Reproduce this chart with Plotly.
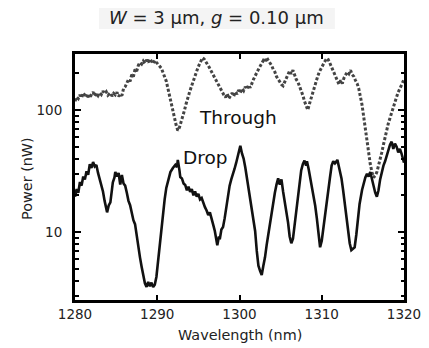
import plotly.graph_objects as go

# ---------------- data ----------------
drop_wl = [1280.0,1280.2,1280.4,1280.6,1280.8,1281.0,1281.2,1281.4,1281.6,1281.8,1282.0,1282.2,1282.4,1282.6,1282.8,
           1283.0,1283.2,1283.4,1283.6,1283.8,1283.9,1284.1,1284.3,1284.5,1284.6,1284.8,1284.9,1285.1,1285.3,1285.5,
           1285.7,1285.9,1286.1,1286.3,1286.5,1286.7,1286.9,1287.1,1287.3,1287.5,1287.7,1287.9,1288.1,1288.3,1288.5,
           1288.7,1288.9,1289.1,1289.3,1289.5,1289.7,1289.9,1290.1,1290.3,1290.5,1290.7,1290.9,1291.1,1291.3,1291.6,
           1291.9,1292.2,1292.4,1292.5,1292.7,1292.8,1293.0,1293.2,1293.4,1293.6,1293.8,1294.0,1294.2,1294.4,1294.6,
           1294.8,1295.0,1295.2,1295.4,1295.6,1295.8,1296.0,1296.2,1296.4,1296.6,1296.8,1297.0,1297.2,1297.3,1297.5,
           1297.6,1297.8,1298.0,1298.2,1298.4,1298.6,1298.8,1299.0,1299.2,1299.4,1299.6,1299.8,1300.0,1300.1,1300.3,
           1300.5,1300.7,1300.9,1301.1,1301.3,1301.5,1301.7,1301.9,1302.1,1302.3,1302.5,1302.7,1302.9,1303.1,1303.3,
           1303.5,1303.7,1303.9,1304.1,1304.3,1304.5,1304.7,1304.9,1305.1,1305.3,1305.5,1305.7,1305.9,1306.1,1306.3,
           1306.5,1306.7,1306.9,1307.1,1307.3,1307.5,1307.7,1307.9,1308.1,1308.2,1308.4,1308.6,1308.8,1309.0,1309.2,
           1309.4,1309.6,1309.8,1310.0,1310.2,1310.4,1310.6,1310.8,1311.0,1311.2,1311.4,1311.6,1311.9,1312.1,1312.2,
           1312.4,1312.6,1312.8,1313.0,1313.2,1313.4,1313.6,1313.8,1314.0,1314.2,1314.4,1314.6,1314.9,1315.1,1315.3,
           1315.5,1315.7,1315.9,1316.1,1316.3,1316.5,1316.7,1316.9,1317.1,1317.3,1317.5,1317.7,1317.9,1318.1,1318.3,
           1318.5,1318.7,1318.9,1319.1,1319.3,1319.5,1319.7,1319.9,1320.0]
drop_nw = [19.5,22.5,21.0,25.7,24.0,28.5,27.0,31.5,29.5,36.0,33.5,37.5,34.5,35.5,30.5,
           27.0,25.2,21.5,18.0,16.0,14.5,16.5,17.5,22.5,25.5,28.0,31.0,28.5,30.5,24.5,
           29.3,25.0,24.0,21.0,18.0,16.6,14.3,12.5,11.6,9.1,7.5,6.2,5.2,4.3,3.8,
           3.55,3.9,3.6,3.85,3.55,3.7,4.3,5.9,7.6,10.0,13.5,18.5,23.0,26.5,31.0,
           33.5,35.5,34.0,39.0,32.0,28.2,27.5,25.0,24.3,22.0,23.5,21.3,22.5,20.0,21.5,
           19.5,20.5,18.5,19.0,17.3,16.0,15.0,13.8,14.5,12.5,11.5,10.2,8.5,7.8,9.2,
           8.7,10.5,11.0,13.0,16.5,20.5,24.0,27.0,29.5,33.0,37.0,42.0,46.0,51.0,44.0,
           40.0,34.0,28.0,23.0,19.0,15.5,12.8,10.2,7.0,5.3,4.8,4.45,5.3,6.2,7.8,
           9.6,12.0,15.0,18.0,21.0,24.5,27.5,24.5,27.0,21.5,18.0,15.5,12.0,9.2,8.1,
           8.8,11.5,16.0,20.9,27.0,32.0,36.0,38.5,35.0,38.0,33.0,28.0,23.0,19.5,16.5,
           13.0,10.0,7.5,8.5,11.0,13.3,17.0,21.5,28.0,35.0,38.0,36.5,39.0,34.0,32.2,
           27.5,22.0,17.3,12.5,10.4,8.1,7.1,7.3,7.5,9.5,13.3,17.0,22.1,25.0,28.0,
           30.0,28.5,31.0,27.0,24.5,21.0,19.5,22.0,27.0,31.0,35.0,38.0,42.0,48.0,52.0,
           55.0,48.0,53.0,50.0,45.0,48.0,44.0,40.0,37.0]

through_wl = [1280.0,1280.2,1280.4,1280.6,1280.8,1281.0,1281.2,1281.4,1281.6,1281.8,1282.0,1282.2,1282.4,1282.6,1282.8,
              1283.0,1283.2,1283.4,1283.6,1283.8,1284.0,1284.3,1284.5,1284.7,1284.9,1285.1,1285.3,1285.5,1285.7,1285.9,
              1286.1,1286.3,1286.5,1286.7,1286.9,1287.1,1287.3,1287.5,1287.7,1287.9,1288.1,1288.3,1288.5,1288.7,1288.9,
              1289.1,1289.3,1289.5,1289.7,1289.9,1290.1,1290.3,1290.5,1290.7,1290.9,1291.1,1291.3,1291.5,1291.7,1291.9,
              1292.1,1292.3,1292.5,1292.7,1292.9,1293.1,1293.3,1293.5,1293.7,1293.9,1294.1,1294.3,1294.5,1294.7,1294.9,
              1295.1,1295.3,1295.5,1295.7,1295.9,1296.1,1296.3,1296.5,1296.7,1296.9,1297.1,1297.3,1297.5,1297.7,1297.9,
              1298.1,1298.3,1298.5,1298.7,1298.9,1299.1,1299.3,1299.5,1299.7,1299.9,1300.1,1300.3,1300.5,1300.7,1300.9,
              1301.1,1301.3,1301.5,1301.7,1301.9,1302.1,1302.3,1302.5,1302.7,1302.9,1303.1,1303.3,1303.5,1303.7,1303.9,
              1304.1,1304.3,1304.5,1304.7,1304.9,1305.1,1305.3,1305.5,1305.7,1305.9,1306.1,1306.3,1306.5,1306.7,1306.9,
              1307.1,1307.3,1307.5,1307.7,1307.9,1308.1,1308.3,1308.5,1308.7,1308.9,1309.1,1309.3,1309.5,1309.7,1309.9,
              1310.1,1310.3,1310.5,1310.7,1310.9,1311.1,1311.3,1311.5,1311.7,1311.9,1312.1,1312.3,1312.5,1312.7,1312.9,
              1313.1,1313.3,1313.5,1313.7,1313.9,1314.1,1314.3,1314.5,1314.7,1314.9,1315.1,1315.3,1315.5,1315.7,1315.9,
              1316.1,1316.3,1316.5,1316.7,1316.9,1317.1,1317.3,1317.5,1317.7,1317.9,1318.1,1318.3,1318.5,1318.7,1318.9,
              1319.1,1319.3,1319.5,1319.7,1319.9,1320.0]
through_nw = [118,128,124,133,126,138,132,127,136,125,134,140,130,137,131,
              139,134,143,136,141,132,138,130,137,133,140,129,135,131,150,
              155,165,178,172,195,188,215,208,232,245,238,252,241,258,246,
              262,250,240,255,244,236,228,220,205,190,172,150,130,110,96,
              84,75,68,72,80,88,99,112,122,138,152,168,185,200,218,
              235,255,268,262,250,240,225,212,200,185,178,165,155,148,138,
              133,127,136,124,132,138,130,141,135,146,139,150,144,155,148,
              160,152,168,178,190,205,215,228,242,255,248,270,255,245,232,
              215,205,188,178,168,162,158,172,185,196,210,198,212,190,178,
              170,158,145,132,118,108,100,112,125,140,155,172,188,205,220,
              232,245,258,265,250,232,215,198,185,170,162,175,165,183,195,
              205,198,212,195,188,175,165,150,130,110,88,70,55,44,36,
              31,28,29,31,35,39,45,52,60,69,78,86,96,108,120,
              128,140,150,162,170,178]

x_tickvals = [1280, 1290, 1300, 1310, 1320]
y_tickvals = [10, 100]
y_ticktext = ["10", "100"]
y_minor = [3, 4, 5, 6, 7, 8, 9, 20, 30, 40, 50, 60, 70, 80, 90, 200]

# label anchor positions (wavelength, power in nW)
through_label = (1299.76, 87.6)
drop_label = (1295.87, 41.2)

FONT = "DejaVu Sans, Liberation Sans, Arial, sans-serif"

fig = go.Figure()
fig.add_trace(go.Scatter(x=through_wl, y=through_nw, mode="lines", name="Through",
                         line=dict(color="#444444", width=3, dash="3px,2px"),
                         showlegend=False))
fig.add_trace(go.Scatter(x=drop_wl, y=drop_nw, mode="lines", name="Drop",
                         line=dict(color="#111111", width=2.6),
                         showlegend=False))

axis_common = dict(showline=True, linecolor="black", linewidth=3, mirror="allticks",
                   ticks="inside", tickcolor="black", tickwidth=2, showgrid=False,
                   zeroline=False, tickfont=dict(family=FONT, size=13.5, color="#222222"))

fig.update_xaxes(range=[1280, 1320], tickvals=x_tickvals, ticklen=5, **axis_common)
fig.update_yaxes(type="log", range=[0.443, 2.459], tickvals=y_tickvals, ticktext=y_ticktext,
                 ticklen=6, ticklabelstandoff=7,
                 minor=dict(tickvals=y_minor, ticks="inside", ticklen=3.5, tickwidth=1.5,
                            tickcolor="black", showgrid=False),
                 **axis_common)

fig.add_shape(type="rect", xref="paper", yref="paper", x0=0.073, x1=0.790, y0=1.102, y1=1.26,
              fillcolor="#f4f4f4", line=dict(width=0), layer="below")

fig.add_annotation(xref="paper", yref="paper", x=0.4286, y=1.150, showarrow=False,
                   text="<i>W</i> = 3 µm, <i>g</i> = 0.10 µm",
                   font=dict(family=FONT, size=18, color="#222222"), xanchor="center", yanchor="middle")
fig.add_annotation(xref="paper", yref="paper", x=-0.146, y=0.496, showarrow=False, textangle=-90,
                   text="Power (nW)", font=dict(family=FONT, size=14.4, color="#222222"),
                   xanchor="center", yanchor="middle")
fig.add_annotation(xref="paper", yref="paper", x=0.5015, y=-0.142, showarrow=False,
                   text="Wavelength (nm)", font=dict(family=FONT, size=14.4, color="#222222"),
                   xanchor="center", yanchor="middle")

import math
# annotations on a log axis take the exponent as their y coordinate
fig.add_annotation(x=through_label[0], y=math.log10(through_label[1]), showarrow=False, text="Through",
                   font=dict(family=FONT, size=18.5, color="#111111"), xanchor="center", yanchor="middle")
fig.add_annotation(x=drop_label[0], y=math.log10(drop_label[1]), showarrow=False, text="Drop",
                   font=dict(family=FONT, size=18.5, color="#111111"), xanchor="center", yanchor="middle")

# page body adds an 8px offset; margins chosen so the frame lands at the reference position
fig.update_layout(width=429, height=348, autosize=False,
                  margin=dict(l=67, r=33, t=46, b=56),
                  plot_bgcolor="white", paper_bgcolor="white")

fig.write_html("out.html")
